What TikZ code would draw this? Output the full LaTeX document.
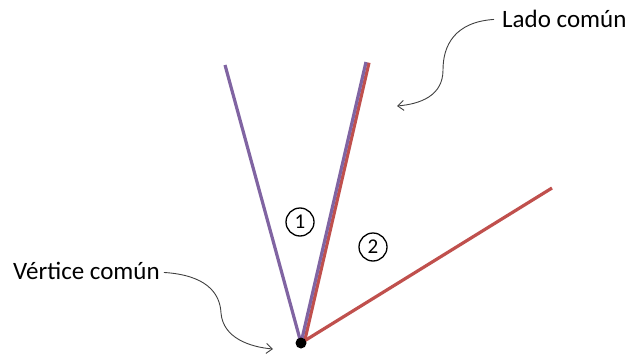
\documentclass[tikz,border=0pt]{standalone}
\usepackage{fontspec}
\setmainfont{Carlito}
\usepackage{tikz}
\usetikzlibrary{arrows.meta}
\definecolor{angpurple}{HTML}{8064A2}
\definecolor{angred}{HTML}{C0504D}
\definecolor{anggray}{HTML}{404040}
\tikzset{
  side/.style={line width=3.2pt, line cap=butt},
  label/.style={inner sep=0pt, font=\fontsize{25}{28}\selectfont},
  numcirc/.style={draw, circle, line width=1.3pt, minimum size=28pt, inner sep=0pt,
                  font=\fontsize{21}{24}\selectfont},
  callout/.style={-{Straight Barb[length=6pt,width=10pt]}, line width=0.9pt, draw=anggray}
}
\begin{document}
\begin{tikzpicture}[x=1pt, y=-1pt]
    \useasboundingbox (0,0) rectangle (631,353);

    \coordinate (vtx) at (301,343);
    \coordinate (vtxr) at (304,343.7);
    \coordinate (topl) at (225,65);
    \coordinate (topm) at (366,62);
    \coordinate (topr) at (369,62.7);
    \coordinate (endr) at (552,188);

    % sides of the two angles
    \draw[side, draw=angred] (vtxr) -- (topr);
    \draw[side, draw=angpurple] (vtx) -- (topm);
    \draw[side, draw=angpurple] (vtx) -- (topl);
    \draw[side, draw=angred] (vtx) -- (endr);
    \fill (vtx) circle (5.5pt);

    \node[numcirc] (one) at (300,222) {1};
    \node[numcirc] (two) at (373,247) {2};

    \node[label, anchor=base west] (lado) at (502,28) {Lado común};
    \node[label, anchor=base west] (vert) at (13,279) {Vértice común};

    \coordinate (ladoend) at (397,106);
    \coordinate (vertend) at (273,349);

    \draw[callout] ([xshift=-8pt]lado.west) .. controls (455,22) and (443,45) .. (443,70)
                   .. controls (443,96) and (420,104) .. (ladoend);
    \draw[callout] ([xshift=4pt,yshift=-2pt]vert.east) .. controls (205,275) and (220,292) .. (221,313)
                   .. controls (223,338) and (250,347) .. (vertend);
\end{tikzpicture}
\end{document}
